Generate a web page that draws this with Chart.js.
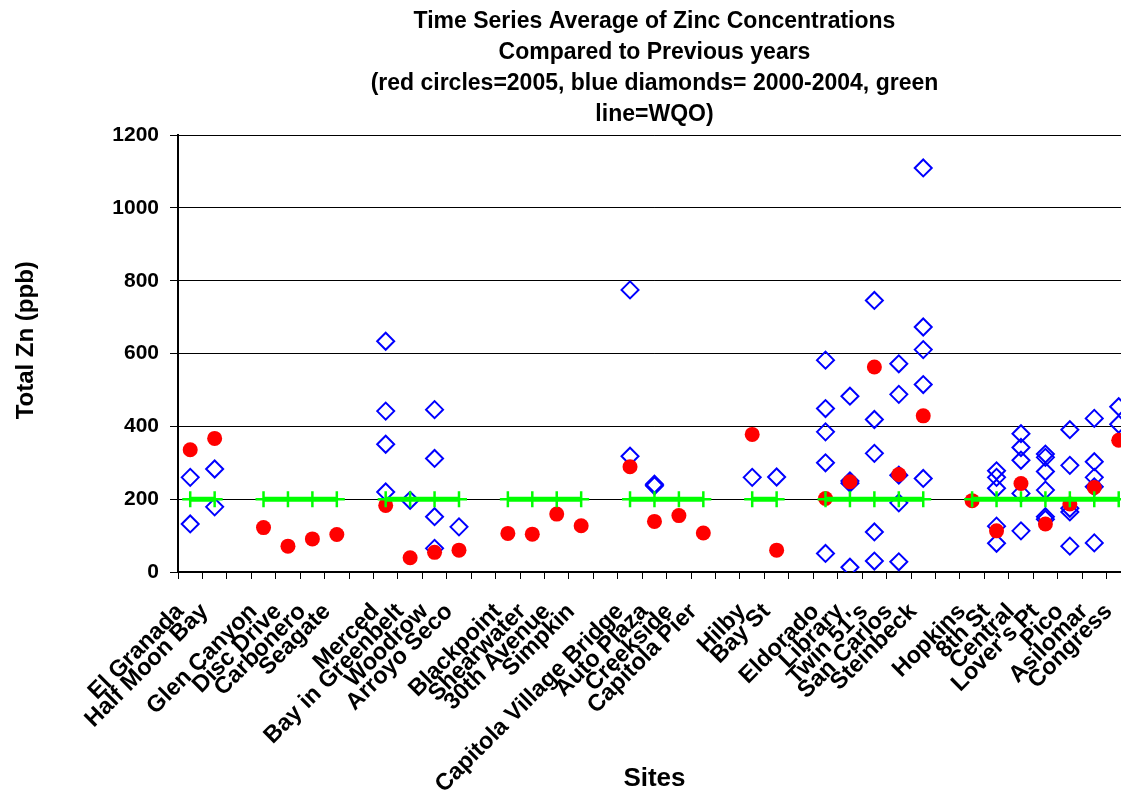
<!DOCTYPE html>
<html>
<head>
<meta charset="utf-8">
<title>Time Series Average of Zinc Concentrations</title>
<script src="https://cdn.jsdelivr.net/npm/chart.js@4.4.1/dist/chart.umd.min.js"></script>
<style>
  html, body { margin: 0; padding: 0; background: #fff; overflow: hidden; }
  #wrap { width: 1158px; height: 792px; }
</style>
</head>
<body>
<div id="wrap"><canvas id="zinc-chart" width="1158" height="792"></canvas></div>
<script>
// ── Data ───────────────────────────────────────────
// empty strings are the gaps between site groups
const sites = [
  'El Granada', 'Half Moon Bay', '',
  'Glen Canyon', 'Disc Drive', 'Carbonero', 'Seagate', '',
  'Merced', 'Bay in Greenbelt', 'Woodrow', 'Arroyo Seco', '',
  'Blackpoint', 'Shearwater', '30th Avenue', 'Simpkin', '',
  'Capitola Village Bridge', 'Auto Plaza', 'Creekside', 'Capitola Pier', '',
  'Hilby', 'Bay St', '',
  'Eldorado', 'Library', "Twin 51's", 'San Carlos', 'Steinbeck', '',
  'Hopkins', '8th St', 'Central', "Lover's Pt", 'Pico', 'Asilomar', 'Congress'
];

// red circles = 2005
const zn2005 = [
  336, 367, null,
  122, 71, 91, 103, null,
  183, 39, 54, 60, null,
  106, 104, 159, 127, null,
  289, 139, 155, 107, null,
  378, 60, null,
  202, 248, 563, 268, 429, null,
  196, 113, 243, 132, 187, 232, 362
];

// blue diamonds = 2000-2004 (several per site)
const zn2000to2004 = [
  [260, 132], [283, 179], [],
  [], [], [], [], [],
  [634, 442, 351, 220], [197], [446, 312, 152, 65], [124], [],
  [], [], [], [], [],
  [775, 318], [241, 237], [], [], [],
  [260], [261], [],
  [582, 449, 385, 300, 51], [483, 250, 244, 13], [746, 419, 326, 110, 30],
  [572, 488, 266, 190, 28], [1110, 673, 611, 515, 257], [],
  [], [278, 260, 230, 126, 79], [380, 342, 307, 216, 113],
  [324, 315, 276, 225, 152, 145], [391, 293, 175, 165, 71],
  [422, 303, 260, 234, 80], [454, 406]
];

// green line = WQO
const wqo = [
  200, 200, null,
  200, 200, 200, 200, null,
  200, 200, 200, 200, null,
  200, 200, 200, 200, null,
  200, 200, 200, 200, null,
  200, 200, null,
  200, 200, 200, 200, 200, null,
  200, 200, 200, 200, 200, 200, 200
];

const yTicks = [0, 200, 400, 600, 800, 1000, 1200];

const titleLines = [
  'Time Series Average of Zinc Concentrations',
  'Compared to Previous years',
  '(red circles=2005, blue diamonds= 2000-2004, green',
  'line=WQO)'
];

// ── Build points ───────────────────────────────────
// category scale needs the site name as x
const bluePoints = [];
zn2000to2004.forEach((vals, i) => {
  vals.forEach(v => bluePoints.push({ x: sites[i], y: v }));
});

const FONT = "'Liberation Sans', Arial, sans-serif";
Chart.defaults.color = '#000';
Chart.defaults.font.family = FONT;

// ── Chart ──────────────────────────────────────────
new Chart(document.getElementById('zinc-chart'), {
  type: 'line',
  data: {
    labels: sites,
    datasets: [
      {
        label: 'WQO',
        data: wqo,
        borderColor: '#00ff00',
        borderWidth: 5,
        spanGaps: false,
        pointStyle: 'cross',
        pointRadius: 8,
        pointBorderWidth: 2.5,
        pointBorderColor: '#00ff00',
      },
      {
        label: '2005',
        data: zn2005,
        showLine: false,
        pointStyle: 'circle',
        pointRadius: 7.5,
        pointBorderWidth: 0,
        pointBackgroundColor: '#ff0000',
        pointBorderColor: '#ff0000',
      },
      {
        label: '2000-2004',
        data: bluePoints,
        showLine: false,
        pointStyle: 'rectRot',
        pointRadius: 8.5,
        pointBorderWidth: 2,
        pointBackgroundColor: 'rgba(0,0,0,0)',
        pointBorderColor: '#0000ff',
      },
    ],
  },
  options: {
    responsive: false,
    animation: false,
    events: [],
    layout: { padding: 0 },
    plugins: {
      legend: { display: false },
      tooltip: { enabled: false },
      title: {
        display: true,
        text: titleLines,
        fullSize: false,
        color: '#000',
        font: { size: 23, weight: 'bold', lineHeight: 1.35 },
        padding: { top: 6, bottom: 5 },
      },
    },
    scales: {
      x: {
        type: 'category',
        offset: true,
        grid: {
          offset: true,
          drawOnChartArea: false,
          drawTicks: true,
          tickLength: 7,
          color: '#000',
        },
        border: { display: true, color: '#000', width: 2 },
        ticks: {
          autoSkip: false,
          maxRotation: 45,
          minRotation: 45,
          padding: 19,
          labelOffset: -10,
          font: { size: 23.5, weight: 'bold' },
        },
        title: {
          display: true,
          text: 'Sites',
          font: { size: 26, weight: 'bold', lineHeight: 1 },
          padding: { top: 0, bottom: 0 },
        },
        afterFit: scale => { scale.height = 220; },
      },
      y: {
        min: yTicks[0],
        max: yTicks[yTicks.length - 1],
        ticks: {
          stepSize: yTicks[1] - yTicks[0],
          padding: 11,
          font: { size: 21, weight: 'bold' },
          callback: v => String(v),
        },
        grid: {
          color: '#000',
          lineWidth: 1,
          tickLength: 8,
        },
        border: { display: true, color: '#000', width: 2 },
        title: {
          display: true,
          // leading spaces nudge the label up like the original
          text: '    Total Zn (ppb)',
          font: { size: 24, weight: 'bold', lineHeight: 1 },
          padding: { top: 14, bottom: 0 },
        },
        afterFit: scale => { scale.width = 178; },
      },
    },
  },
});
</script>
</body>
</html>
